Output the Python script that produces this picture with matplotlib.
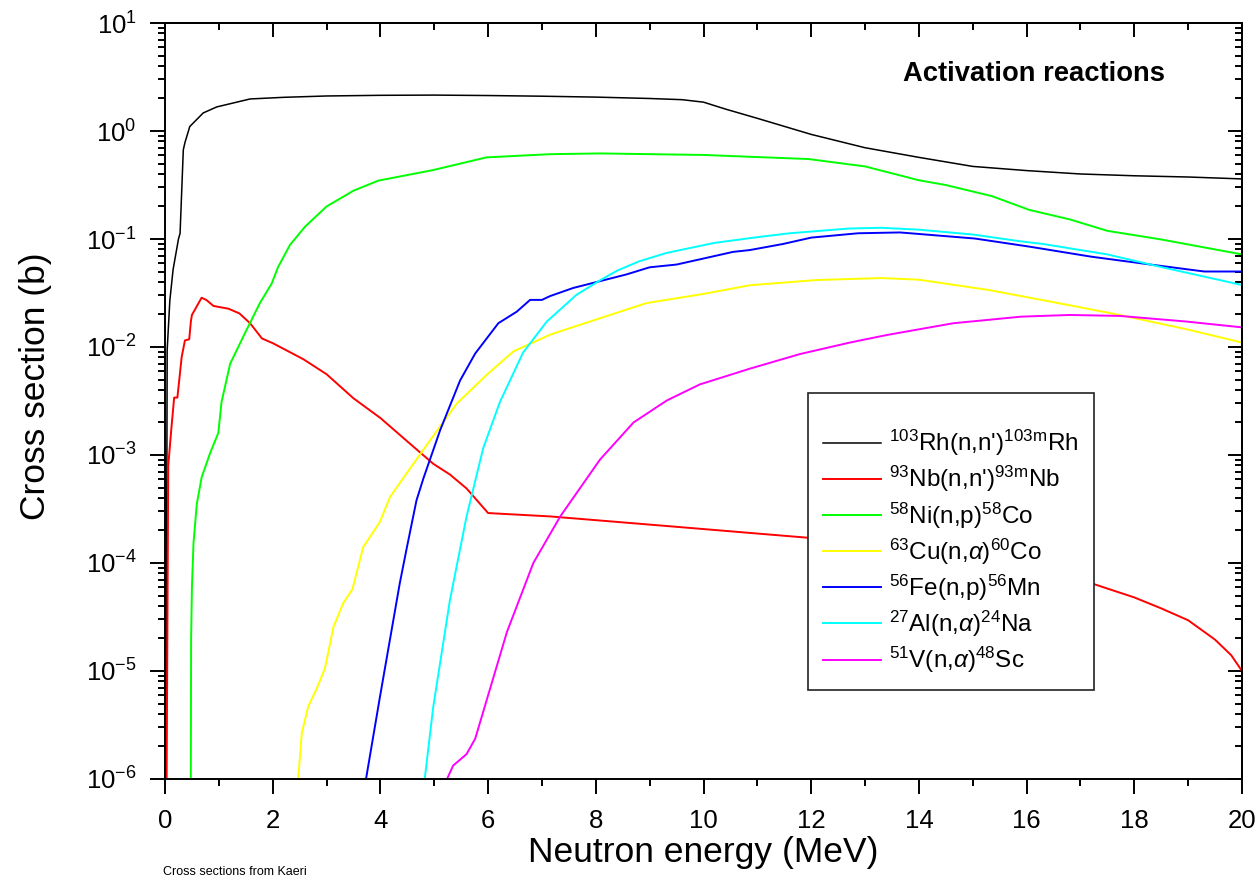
import numpy as np
import matplotlib
matplotlib.use('agg')
import matplotlib.pyplot as plt
from matplotlib.ticker import MultipleLocator, LogLocator, NullFormatter

# cross sections (b) vs neutron energy (MeV)
rh_e = [0.015, 0.04, 0.09, 0.15, 0.25, 0.28, 0.34, 0.37, 0.46, 0.71, 0.96, 1.58, 2.2, 3.0, 4.0, 5.0,
        6.0, 7.0, 8.0, 9.0, 9.6, 10.0, 10.4, 11.0, 12.0, 13.0, 14.0, 15.0, 16.0, 17.0, 18.0, 19.0, 20.0]
rh_xs = [1e-7, 9.3e-3, 0.027, 0.052, 0.10, 0.113, 0.67, 0.78, 1.1, 1.47, 1.67, 1.98, 2.05, 2.11, 2.14, 2.15,
         2.13, 2.1, 2.06, 2.0, 1.95, 1.85, 1.6, 1.31, 0.93, 0.70, 0.57, 0.47, 0.43, 0.40, 0.385, 0.375, 0.36]

nb_e = [0.02, 0.06, 0.12, 0.17, 0.23, 0.31, 0.37, 0.45, 0.48, 0.50, 0.68, 0.77, 0.90, 1.18, 1.38, 1.58,
        1.80, 2.01, 2.57, 3.0, 3.5, 4.0, 4.49, 4.98, 5.29, 5.6, 6.0, 7.15, 9.32, 11.96, 17.12, 17.5,
        18.0, 18.5, 19.0, 19.5, 19.8, 20.0]
nb_xs = [1e-7, 7.9e-4, 1.8e-3, 3.4e-3, 3.4e-3, 8.1e-3, 0.0115, 0.0118, 0.0172, 0.0198, 0.0286, 0.0272,
         0.024, 0.0226, 0.0205, 0.0166, 0.012, 0.0108, 0.0077, 0.0056, 0.00335, 0.0022, 0.00135, 8.3e-4,
         6.6e-4, 4.9e-4, 2.9e-4, 2.7e-4, 2.2e-4, 1.71e-4, 6.7e-5, 5.8e-5, 4.8e-5, 3.8e-5, 2.95e-5,
         1.95e-5, 1.4e-5, 1.0e-5]

ni_e = [0.475, 0.485, 0.50, 0.53, 0.59, 0.68, 0.84, 0.99, 1.05, 1.21, 1.49, 1.76, 1.98, 2.1, 2.32, 2.6,
        3.0, 3.5, 3.96, 4.98, 5.97, 7.15, 8.08, 10.0, 11.95, 13.0, 14.0, 14.5, 15.35, 16.05, 16.8, 17.5,
        18.5, 20.0]
ni_xs = [1e-7, 2e-5, 6e-5, 1.55e-4, 3.5e-4, 6.2e-4, 1.05e-3, 1.6e-3, 3.1e-3, 7.0e-3, 0.0136, 0.0254,
         0.0386, 0.055, 0.088, 0.13, 0.20, 0.28, 0.347, 0.435, 0.57, 0.61, 0.62, 0.60, 0.55, 0.47, 0.35,
         0.316, 0.25, 0.186, 0.152, 0.119, 0.099, 0.072]

cu_e = [2.44, 2.48, 2.54, 2.66, 2.82, 2.97, 3.13, 3.31, 3.48, 3.68, 3.99, 4.18, 4.49, 4.98, 5.42, 5.97,
        6.47, 7.15, 7.4, 8.94, 10.0, 10.86, 12.1, 13.3, 14.0, 15.3, 16.5, 17.73, 18.97, 20.0]
cu_xs = [8e-7, 1.1e-6, 2.65e-6, 4.7e-6, 6.9e-6, 1.06e-5, 2.57e-5, 4.25e-5, 5.7e-5, 1.4e-4, 2.4e-4, 4.1e-4,
         6.8e-4, 1.5e-3, 3.0e-3, 5.5e-3, 9.1e-3, 0.013, 0.0143, 0.0255, 0.031, 0.0373, 0.0417, 0.0435,
         0.042, 0.0337, 0.026, 0.0198, 0.0146, 0.011]

fe_e = [3.70, 3.99, 4.36, 4.49, 4.67, 4.80, 5.11, 5.48, 5.76, 6.19, 6.53, 6.78, 7.0, 7.15, 7.58, 8.57,
        9.0, 9.5, 10.55, 10.86, 11.48, 12.0, 12.87, 13.65, 15.04, 16.05, 17.2, 18.3, 19.3, 20.0]
fe_xs = [8e-7, 5.7e-6, 6.5e-5, 1.38e-4, 3.8e-4, 6.1e-4, 1.7e-3, 4.9e-3, 8.7e-3, 0.0166, 0.0212, 0.0273,
         0.0273, 0.0296, 0.0352, 0.047, 0.0547, 0.058, 0.076, 0.079, 0.09, 0.103, 0.113, 0.115, 0.101,
         0.085, 0.0686, 0.058, 0.050, 0.050]

al_e = [4.8, 4.98, 5.29, 5.6, 5.91, 6.22, 6.65, 7.09, 7.64, 8.08, 8.4, 8.8, 9.3, 10.2, 11.0, 11.6, 12.7,
        13.3, 14.0, 15.0, 15.9, 16.3, 17.5, 18.5, 20.0]
al_xs = [8e-7, 4.6e-6, 4.5e-5, 2.7e-4, 1.16e-3, 3.1e-3, 8.9e-3, 0.0172, 0.0304, 0.0415, 0.051, 0.062,
         0.074, 0.092, 0.104, 0.113, 0.125, 0.127, 0.122, 0.11, 0.095, 0.090, 0.072, 0.055, 0.0375]

v_e = [5.15, 5.35, 5.6, 5.76, 5.97, 6.35, 6.84, 7.34, 8.08, 8.7, 9.32, 9.93, 10.86, 11.79, 12.72, 13.4,
       14.64, 15.9, 16.8, 17.73, 18.97, 20.0]
v_xs = [8e-7, 1.33e-6, 1.7e-6, 2.36e-6, 5.3e-6, 2.3e-5, 1.0e-4, 2.7e-4, 9.1e-4, 2.0e-3, 3.2e-3, 4.5e-3,
        6.3e-3, 8.6e-3, 0.011, 0.0129, 0.0166, 0.0191, 0.0198, 0.0194, 0.0172, 0.0152]

labels = [r"$^{\mathrm{103}}$Rh(n,n')$^{\mathrm{103m}}$Rh",
          r"$^{\mathrm{93}}$Nb(n,n')$^{\mathrm{93m}}$Nb",
          r"$^{\mathrm{58}}$Ni(n,p)$^{\mathrm{58}}$Co",
          r"$^{\mathrm{63}}$Cu(n,$\alpha$)$^{\mathrm{60}}$Co",
          r"$^{\mathrm{56}}$Fe(n,p)$^{\mathrm{56}}$Mn",
          r"$^{\mathrm{27}}$Al(n,$\alpha$)$^{\mathrm{24}}$Na",
          r"$^{\mathrm{51}}$V(n,$\alpha$)$^{\mathrm{48}}$Sc"]
colors = ['#000000', '#ff0000', '#00ff00', '#ffff00', '#0000ff', '#00ffff', '#ff00ff']

plt.rcParams['font.family'] = ['Liberation Sans', 'DejaVu Sans']
plt.rcParams['mathtext.fontset'] = 'custom'
plt.rcParams['mathtext.rm'] = 'Liberation Sans'
plt.rcParams['mathtext.it'] = 'Liberation Sans:italic'
plt.rcParams['mathtext.bf'] = 'Liberation Sans:bold'
plt.rcParams['axes.unicode_minus'] = False

fig = plt.figure(figsize=(12.58, 8.91), dpi=100)
ax = fig.add_axes([165/1258, 1-779/891, 1077/1258, 756/891])

series = [(rh_e, rh_xs), (nb_e, nb_xs), (ni_e, ni_xs), (cu_e, cu_xs),
          (fe_e, fe_xs), (al_e, al_xs), (v_e, v_xs)]
for (e, xs), lab, c in zip(series, labels, colors):
    ax.plot(e, xs, color=c, lw=1.1 if c == '#000000' else 1.4, label=lab)

ax.set_yscale('log')
ax.set_xlim(0, 20)
ax.set_ylim(1e-6, 10)
ax.set_xticks(np.arange(0, 21, 2))
ax.xaxis.set_minor_locator(MultipleLocator(1))
ax.set_yticks([10.0**k for k in range(-6, 2)])
ax.yaxis.set_minor_locator(LogLocator(base=10, subs=np.arange(2, 10), numticks=100))
ax.yaxis.set_minor_formatter(NullFormatter())
ax.tick_params(which='both', direction='out', top=False, right=False, width=1.4, labelsize=18.5)
ax.tick_params(which='major', length=10.5)
ax.tick_params(which='minor', length=5)
ax.tick_params(axis='x', which='major', pad=11)
ax.tick_params(axis='y', which='major', pad=10)
for s in ax.spines.values():
    s.set_linewidth(1.4)

# inward ticks on top and right
top = ax.secondary_xaxis('top')
top.set_xticks(np.arange(0, 21, 2))
top.xaxis.set_minor_locator(MultipleLocator(1))
top.tick_params(which='both', direction='in', labeltop=False, width=1.4)
top.tick_params(which='major', length=10)
top.tick_params(which='minor', length=5)
top.spines['top'].set_linewidth(1.4)

right = ax.secondary_yaxis('right')
right.set_yticks([10.0**k for k in range(-6, 2)])
right.yaxis.set_minor_locator(LogLocator(base=10, subs=np.arange(2, 10), numticks=100))
right.yaxis.set_minor_formatter(NullFormatter())
right.tick_params(which='both', direction='in', labelright=False, width=1.4)
right.tick_params(which='major', length=10)
right.tick_params(which='minor', length=5)
right.spines['right'].set_linewidth(1.4)

ax.set_xlabel('Neutron energy (MeV)', fontsize=25.5)
ax.xaxis.set_label_coords(0.5, -0.076)
ax.set_ylabel('Cross section (b)', fontsize=25.5)
ax.yaxis.set_label_coords(-0.105, 0.52)

ax.text(0.685, 0.933, 'Activation reactions', transform=ax.transAxes,
        fontsize=19.7, fontweight='bold', ha='left', va='center')
fig.text(163/1258, 1-872/891, 'Cross sections from Kaeri', fontsize=9, va='center')

leg = ax.legend(loc='upper left', bbox_to_anchor=(0.597, 0.5106), borderaxespad=0,
                fontsize=17.5, fancybox=False, framealpha=1, edgecolor='#222222',
                handlelength=2.4, handletextpad=0.33, labelspacing=0.245, borderpad=0.62,
                title=' ', title_fontsize=11)
leg.get_frame().set_linewidth(1.2)

fig.savefig('out.png', dpi=100)
